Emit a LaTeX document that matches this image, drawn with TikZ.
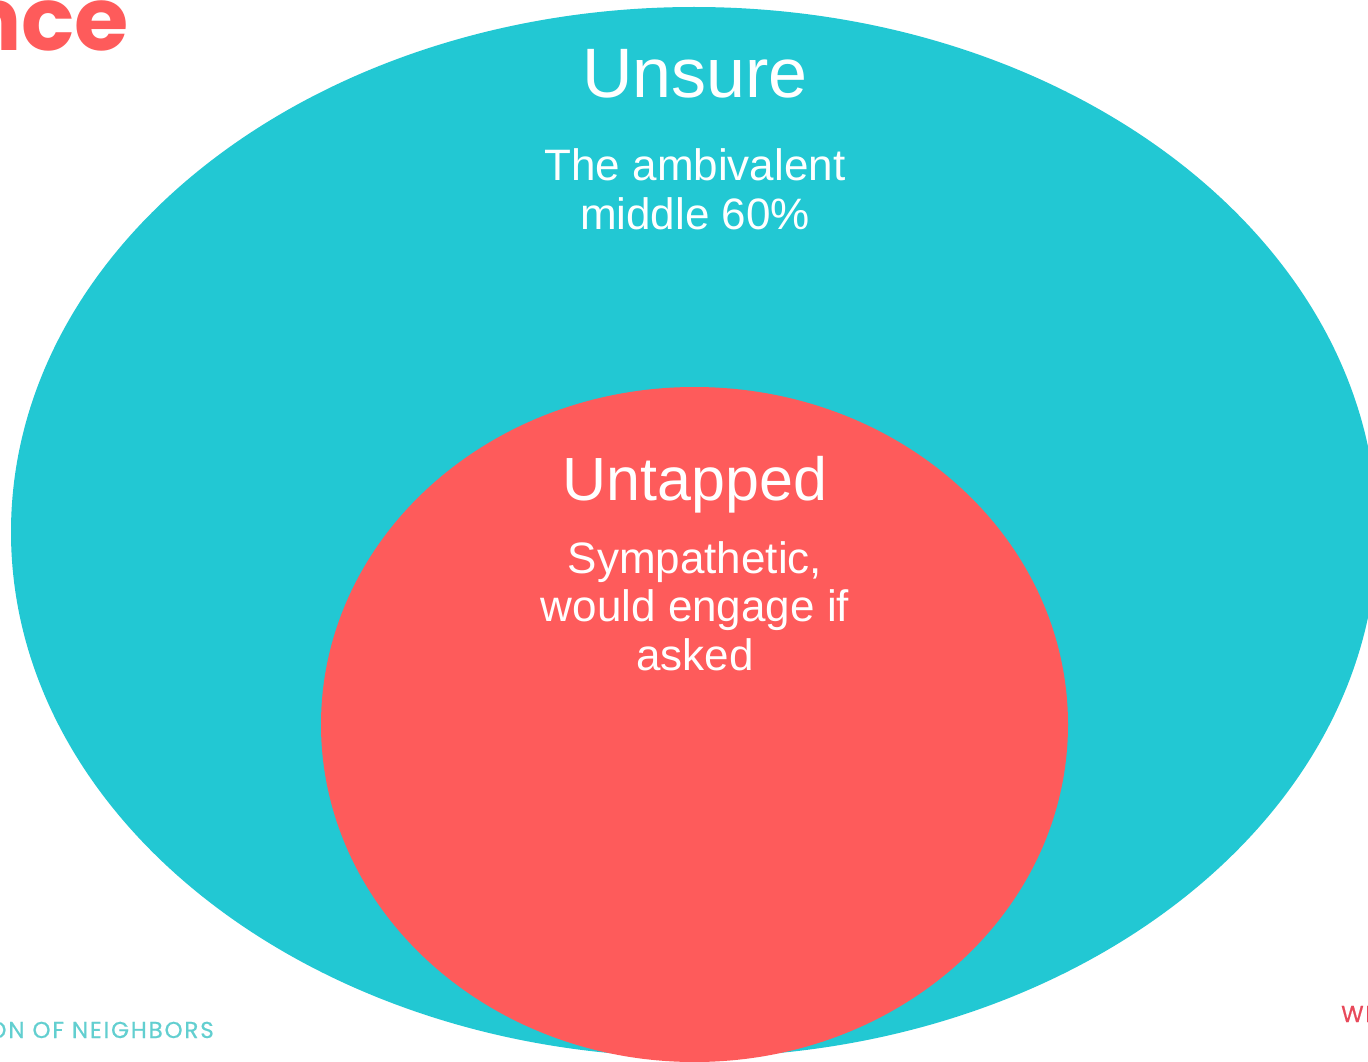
\documentclass[tikz,border=0pt]{standalone}
\usepackage{fontspec}
\setmainfont{Liberation Sans}
\newfontfamily\popbold{Poppins}
\newfontfamily\popspaced{Poppins}[LetterSpace=8,FakeBold=0.6]
\usetikzlibrary{shapes.geometric}
\definecolor{teal}{HTML}{22C8D3}
\definecolor{coral}{HTML}{FE5B5B}
\definecolor{footteal}{HTML}{62CFD0}
\definecolor{footred}{HTML}{E8495A}
\tikzset{
  blob/.style={ellipse, inner sep=0pt, draw=none},
  title/.style={text=white, inner sep=0pt, anchor=base, font=\fontsize{61}{70}\selectfont},
  body/.style={text=white, inner sep=0pt, anchor=base, align=center, font=\fontsize{44}{48.5}\selectfont},
}
\begin{document}
\begin{tikzpicture}[x=1pt,y=-1pt]
\useasboundingbox (0,0) rectangle (1368,1062);
\clip (0,0) rectangle (1368,1062);
\fill[white] (0,0) rectangle (1368,1062);
% header fragment and footers
\node[inner sep=0pt, anchor=base east, text=coral, font=\popbold\bfseries\fontsize{88}{90}\selectfont] (hdr) at (129,51) {nce};
\node[inner sep=0pt, anchor=base east, text=footteal, font=\popspaced\fontsize{23}{26}\selectfont] (footl) at (214,1038) {ON OF NEIGHBORS};
\node[inner sep=0pt, anchor=base west, text=footred, font=\popspaced\fontsize{23}{26}\selectfont] (footr) at (1341,1022) {WE};
% ellipses
\node[blob, fill=teal, minimum width=1366pt, minimum height=1050pt] (outer) at (694,532) {};
\node[blob, fill=coral, minimum width=747pt, minimum height=675pt] (inner) at (694.5,724.5) {};
% texts
\node[title, font=\fontsize{70}{80}\selectfont] (unsure) at (695,98) {Unsure};
\node[body] (unsuredesc) at (695,229) {The ambivalent\\middle 60\%};
\node[title] (untapped) at (695,500) {Untapped};
\node[body] (untappeddesc) at (695,670) {Sympathetic,\\would engage if\\asked};
\end{tikzpicture}
\end{document}
